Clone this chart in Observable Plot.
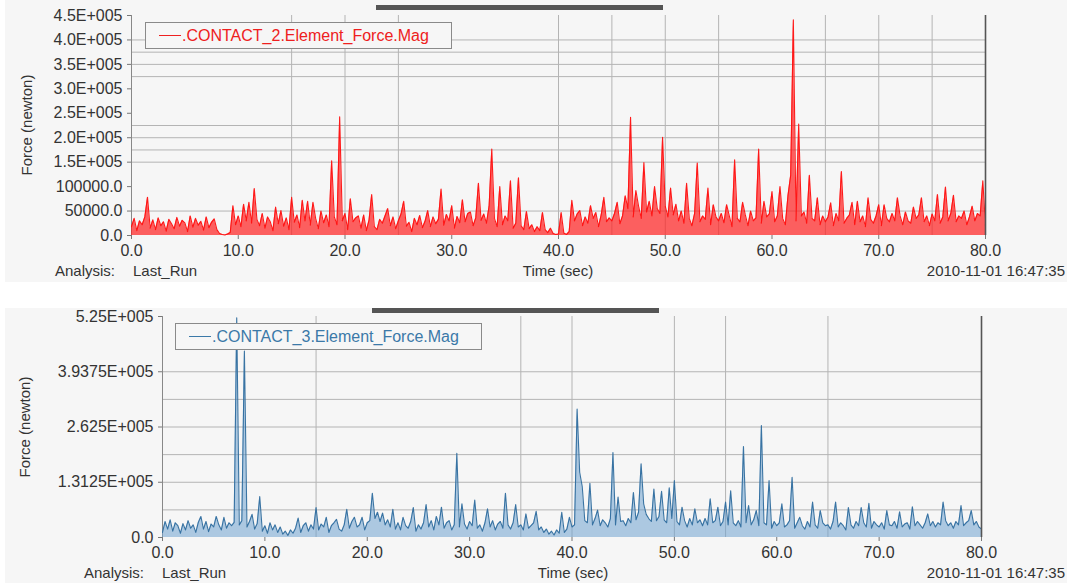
<!DOCTYPE html>
<html>
<head>
<meta charset="utf-8">
<script src="https://cdn.jsdelivr.net/npm/d3@7"></script>
<script src="https://cdn.jsdelivr.net/npm/@observablehq/plot@0.6"></script>
<style>
  html, body { margin: 0; padding: 0; background: #ffffff; }
  #root { position: relative; width: 1070px; height: 583px; overflow: hidden; font-family: "Liberation Sans", Arial, sans-serif; color: #333; }
  .panel { position: absolute; background: #f6f6f6; }
  .bar { position: absolute; background: #555; }
  .lbl { position: absolute; font-size: 15px; line-height: 18px; white-space: nowrap; color: #333; transform: translateY(-50%); }
  .ctr { transform: translate(-50%, -50%); }
  .rgt { transform: translate(-100%, -50%); }
  .ylab { position: absolute; font-size: 15px; white-space: nowrap; color: #333; transform: translate(-50%, -50%) rotate(-90deg); }
  .legend { position: absolute; border: 1px solid #8a8a8a; background: #f6f6f6; box-sizing: border-box; }
  .legend .sw { position: absolute; height: 1px; }
  .legend .tx { position: absolute; font-size: 16px; line-height: 18px; white-space: nowrap; transform: translateY(-50%); }
  .chart { position: absolute; left: 0; }
</style>
</head>
<body>
<div id="root"></div>
<script>
// ---------------- data (values in kN, sampled every 0.25 s from 0 to 80 s) ----------------
const step = 0.25;
const xTicks = [0, 10, 20, 30, 40, 50, 60, 70, 80];

// CONTACT_2 force magnitude (kN)
const contact2 = [
  18, 35, 10, 30,   22, 38, 78, 15,   32, 12, 36, 20,   28, 9, 33, 24,   14, 37, 19, 31,
  26, 8, 40, 17,    35, 21, 29, 11,   38, 16, 27, 34,   12, 4, 2, 1,     3, 6, 61, 22,
  40, 18, 64, 30,   68, 25, 96, 33,   20, 45, 15, 38,   28, 10, 58, 24,  51, 19, 36, 12,
  78, 27, 42, 16,   72, 30, 70, 21,   68, 35, 14, 50,   26, 42, 18, 153, 38, 22, 243, 30,
  45, 12, 75, 28,   36, 40, 15, 42,   10, 31, 84, 18,   12, 33, 25, 40,  55, 20, 38, 14,
  30, 44, 70, 19,   27, 8, 35, 22,    41, 16, 29, 51,   18, 38, 24, 33,  95, 21, 43, 30,
  61, 15, 39, 26,   73, 28, 45, 48,   20, 36, 107, 31,  44, 25, 60, 177, 35, 18, 100, 22,
  40, 30, 112, 15,  25, 118, 20, 12,  49, 14, 22, 8,    18, 10, 47, 12,  6, 15, 4, 2,
  3, 47, 5, 2,      8, 72, 30, 44,    51, 20, 38, 25,   61, 35, 47, 18,  42, 78, 28, 36,
  30, 45, 68, 24,   40, 81, 55, 242,  38, 92, 60, 35,   149, 48, 70, 40, 100, 55, 45, 201,
  60, 38, 97, 42,   64, 30, 50, 25,   107, 35, 20, 45,  148, 28, 40, 33, 97, 22, 63, 38,
  30, 45, 26, 63,   40, 18, 155, 35,  28, 68, 42, 20,   50, 30, 36, 177, 25, 70, 38, 44,
  90, 28, 40, 100,  35, 22, 82, 123,  441, 30, 228, 40, 48, 25, 123, 35, 30, 77, 22, 40,
  28, 38, 67, 20,   45, 30, 131, 25,  35, 42, 68, 22,   70, 28, 40, 18,  77, 33, 25, 40,
  63, 20, 63, 35,   28, 45, 30, 77,   40, 22, 48, 30,   25, 58, 35, 42,  77, 28, 40, 20,
  44, 30, 84, 25,   38, 99, 30, 45,   82, 28, 40, 35,   50, 22, 38, 60,  30, 45, 40, 112,
  20
];

// CONTACT_3 force magnitude (kN)
const contact3 = [
  12, 38, 20, 42,   15, 35, 28, 10,   33, 18, 40, 22,   30, 12, 36, 50,  20, 38, 14, 32,
  25, 50, 30, 18,   48, 22, 35, 28,   36, 522, 30, 40,  443, 25, 38, 55, 20, 33, 97, 15,
  28, 10, 35, 18,   30, 12, 25, 8,    15, 5, 18, 10,    22, 46, 12, 28,  35, 15, 30, 20,
  71, 18, 32, 25,   48, 12, 28, 35,   43, 20, 15, 30,   67, 22, 38, 48,  25, 30, 48, 18,
  35, 40, 105, 45,  60, 38, 58, 30,   42, 25, 67, 20,   35, 18, 48, 28,  22, 38, 71, 15,
  30, 20, 35, 78,   25, 40, 18, 50,   30, 72, 22, 35,   40, 18, 30, 200, 25, 80, 32, 20,
  38, 28, 89, 22,   30, 15, 35, 68,   25, 40, 18, 32,   38, 22, 105, 30, 20, 35, 78, 25,
  30, 18, 56, 22,   28, 35, 62, 18,   25, 12, 20, 8,    15, 6, 18, 10,   60, 12, 20, 48,
  25, 30, 305, 155, 121, 40, 35, 129, 30, 45, 65, 28,   42, 35, 25, 45,  202, 30, 96, 38,
  40, 28, 45, 35,   107, 42, 60, 175, 80, 55, 45, 38,   115, 40, 50, 110, 42, 35, 118, 45,
  135, 38, 30, 72,  40, 25, 45, 30,   68, 35, 42, 28,   45, 30, 92, 35,  40, 72, 28, 38,
  84, 30, 111, 35,  28, 40, 25, 216,  35, 76, 30, 42,   64, 28, 266, 35, 30, 135, 22, 38,
  28, 35, 80, 25,   30, 40, 143, 22,  35, 48, 28, 20,   38, 25, 84, 30,  22, 64, 35, 28,
  30, 20, 38, 84,   25, 35, 28, 18,   71, 30, 22, 38,   28, 71, 35, 25,  81, 22, 38, 30,
  25, 35, 20, 64,   30, 28, 38, 22,   61, 25, 32, 35,   20, 73, 28, 38,  30, 22, 35, 56,
  28, 38, 25, 35,   30, 84, 40, 28,   35, 22, 38, 30,   76, 28, 35, 40,  64, 30, 38, 25,
  20
];

// axis ticks and labels
const topYTicks = [0, 50000, 100000, 150000, 200000, 250000, 300000, 350000, 400000, 450000];
const topYLabels = ["0.0", "50000.0", "100000.0", "1.5E+005", "2.0E+005", "2.5E+005", "3.0E+005", "3.5E+005", "4.0E+005", "4.5E+005"];
const botYTicks = [0, 131250, 262500, 393750, 525000];
const botYLabels = ["0.0", "1.3125E+005", "2.625E+005", "3.9375E+005", "5.25E+005"];

// grid lines visible in the original screenshots
const topGridX = [15, 20, 25, 40, 45, 50, 55, 65, 70, 75];
const topGridY = [50000, 150000, 175000, 200000, 225000, 325000, 350000, 375000, 400000];
const botGridX = [15, 35, 40, 50, 55, 65];
const botGridY = [65625, 131250, 196875, 262500, 328125, 393750];

const topName = ".CONTACT_2.Element_Force.Mag";
const botName = ".CONTACT_3.Element_Force.Mag";
const xLabel = "Time (sec)";
const yLabel = "Force (newton)";
const analysisTag = "Analysis:";
const runName = "Last_Run";
const stamp = "2010-11-01 16:47:35";

// ---------------- rendering ----------------
const root = document.getElementById("root");
function el(cls, css, text) {
  const d = document.createElement("div");
  d.className = cls;
  Object.assign(d.style, css);
  if (text != null) d.textContent = text;
  root.appendChild(d);
  return d;
}

el("panel", {left: "5px", top: "0px", width: "1062px", height: "282px"});
el("panel", {left: "5px", top: "308px", width: "1062px", height: "275px"});

function makeChart(values, opts) {
  const data = values.map((v, i) => ({t: i * step, f: v * 1000}));
  return Plot.plot({
    width: 1070,
    height: opts.height,
    marginLeft: opts.ml, marginRight: opts.mr, marginTop: opts.mt, marginBottom: opts.mb,
    style: {background: "transparent", fontFamily: "'Liberation Sans', Arial, sans-serif", fontSize: "16px", color: "#333", overflow: "visible"},
    x: {domain: [0, 80]},
    y: {domain: [0, opts.ymax]},
    marks: [
      Plot.ruleX(opts.gridX, {stroke: "#b4b4b4", strokeWidth: 1}),
      Plot.ruleY(opts.gridY, {stroke: "#b4b4b4", strokeWidth: 1}),
      Plot.ruleX([0], {stroke: "#888", strokeWidth: 1}),
      Plot.areaY(data, {x: "t", y: "f", fill: opts.fill, fillOpacity: opts.fillOpacity}),
      Plot.lineY(data, {x: "t", y: "f", stroke: opts.color, strokeWidth: 1.1, strokeOpacity: 0.95}),
      Plot.ruleX([80], {stroke: "#555", strokeWidth: 1.6}),
      Plot.axisX({ticks: xTicks, tickFormat: d => d.toFixed(1), tickSize: 4, tickPadding: 5, label: null, stroke: "#777"}),
      Plot.axisY({ticks: opts.yTicks, tickFormat: (d, i) => opts.yLabels[i], tickSize: 4, tickPadding: 5, label: null, stroke: "#777"})
    ]
  });
}

const topChart = makeChart(contact2, {height: 290, ml: 131, mr: 85, mt: 15, mb: 55, ymax: 450000,
  gridX: topGridX, gridY: topGridY, color: "#ff0f0f", fill: "#ff2020", fillOpacity: 0.7, yTicks: topYTicks, yLabels: topYLabels});
topChart.classList.add("chart");
topChart.style.top = "0px";
root.appendChild(topChart);

const botChart = makeChart(contact3, {height: 293, ml: 162, mr: 89, mt: 26, mb: 46, ymax: 525000,
  gridX: botGridX, gridY: botGridY, color: "#2f6d9e", fill: "#6fa3cf", fillOpacity: 0.55, yTicks: botYTicks, yLabels: botYLabels});
botChart.classList.add("chart");
botChart.style.top = "290px";
root.appendChild(botChart);

// dark bars above each panel
el("bar", {left: "376px", top: "5px", width: "287px", height: "5px"});
el("bar", {left: "372px", top: "308px", width: "287px", height: "5px"});

// legends
function legend(x, y, w, h, color, name) {
  const b = el("legend", {left: x + "px", top: y + "px", width: w + "px", height: h + "px"});
  const sw = document.createElement("div");
  sw.className = "sw";
  Object.assign(sw.style, {left: "13px", top: (h / 2 - 1.5) + "px", width: "22px", background: color});
  b.appendChild(sw);
  const tx = document.createElement("div");
  tx.className = "tx";
  Object.assign(tx.style, {left: "36px", top: (h / 2 - 1) + "px", color: color});
  tx.textContent = name;
  b.appendChild(tx);
}
legend(145, 22, 307, 27, "#ee2020", topName);
legend(175, 323, 307, 27, "#3b79a8", botName);

// bottom texts
function footer(y, ax, rx, tx) {
  el("lbl", {left: ax + "px", top: y + "px"}, analysisTag);
  el("lbl", {left: rx + "px", top: y + "px"}, runName);
  el("lbl ctr", {left: tx + "px", top: y + "px"}, xLabel);
  el("lbl rgt", {left: "1065px", top: y + "px"}, stamp);
}
footer(271, 55, 133, 558);
footer(573, 84, 162, 573);

el("ylab", {left: "26px", top: "125px"}, yLabel);
el("ylab", {left: "24px", top: "427px"}, yLabel);
</script>
</body>
</html>
